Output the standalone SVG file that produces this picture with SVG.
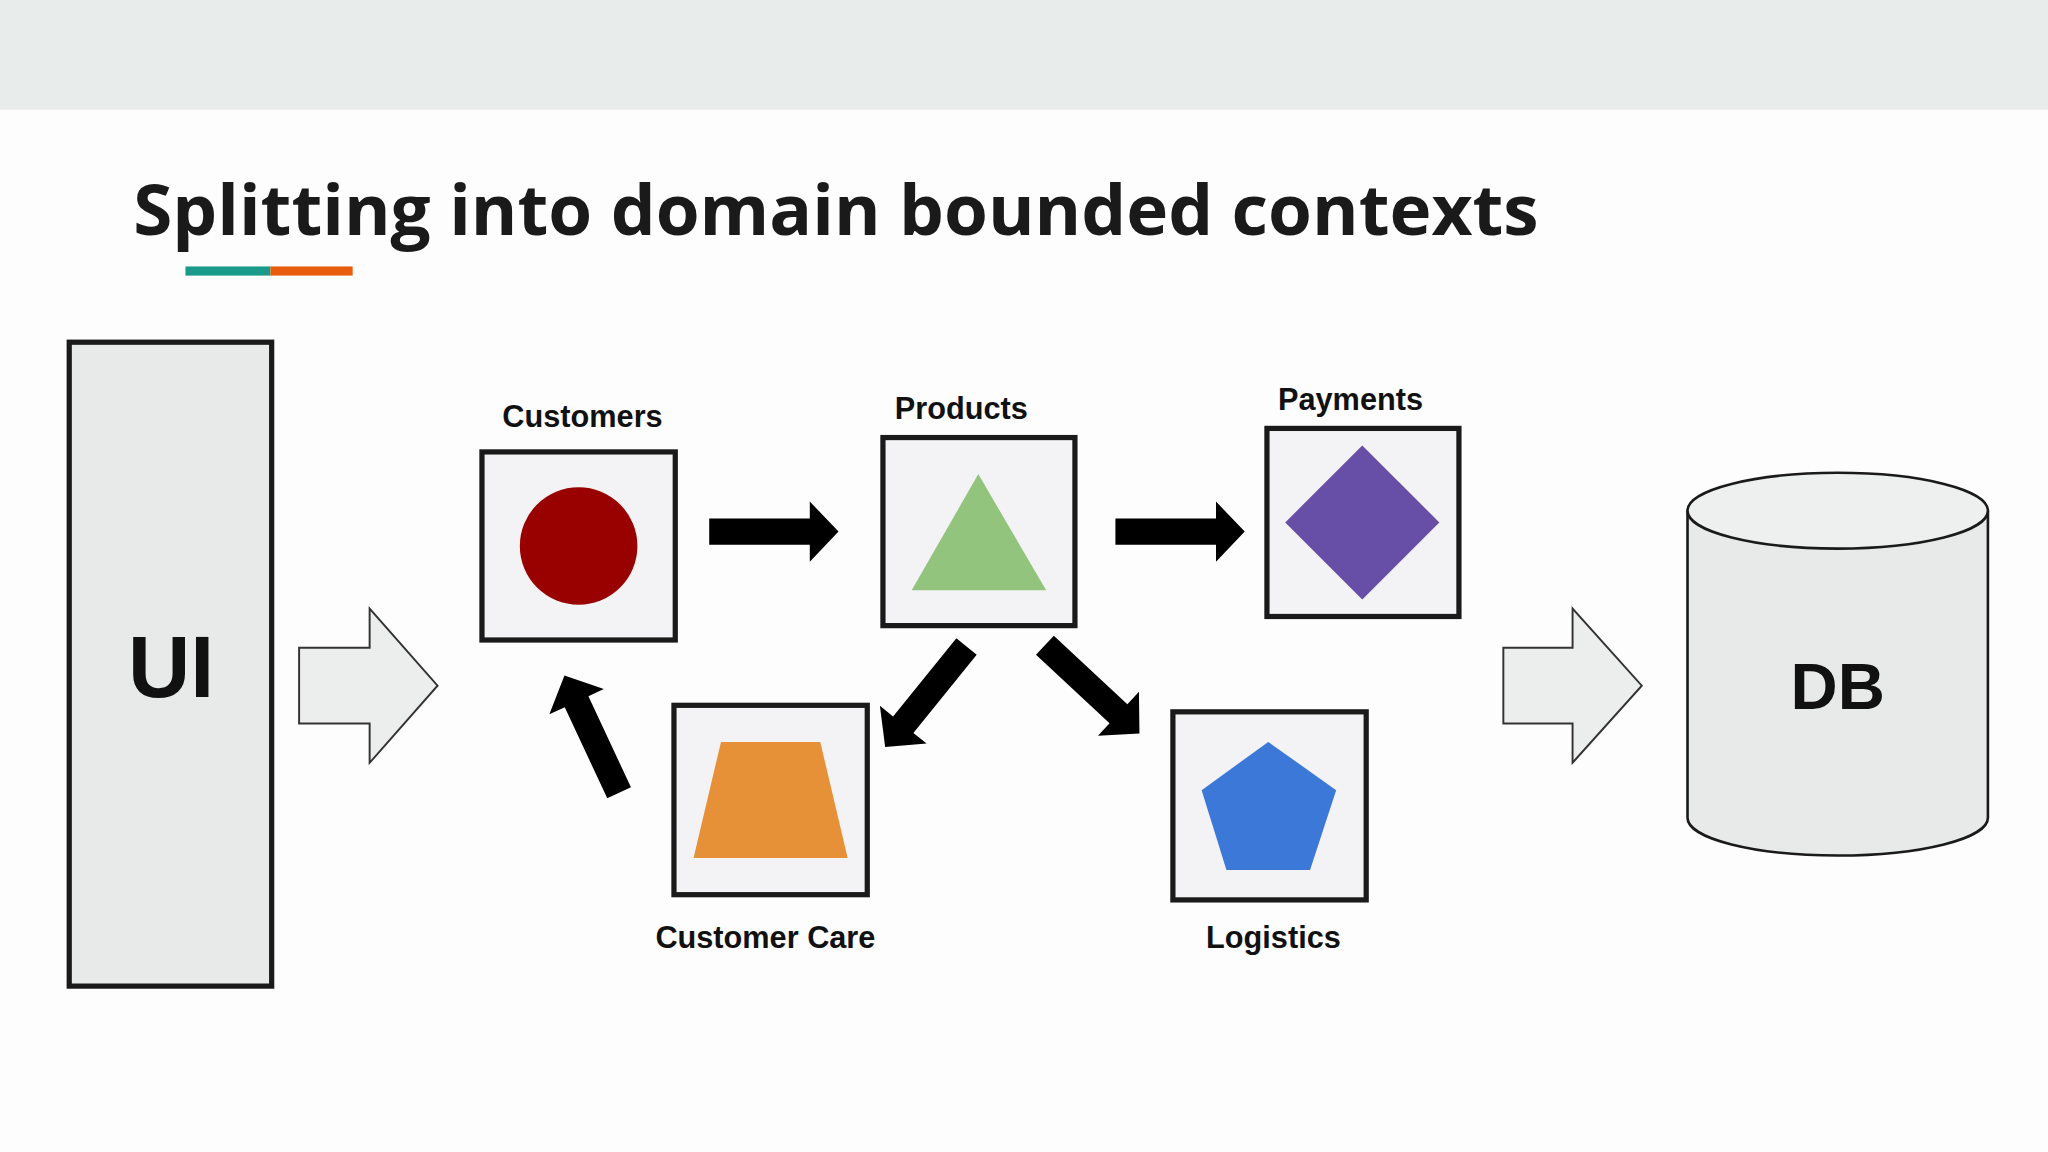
<svg xmlns="http://www.w3.org/2000/svg" xmlns:xlink="http://www.w3.org/1999/xlink" width="2048" height="1152" viewBox="0 0 2048 1152">
<style>
.box{fill:#f3f2f4;stroke:#1a1a1a;stroke-width:4}
.lbl{font-family:"Liberation Sans",Arial,sans-serif;font-weight:bold;font-size:23.5px;fill:#111;text-anchor:middle}
.big{font-family:"Liberation Sans",Arial,sans-serif;font-weight:bold;fill:#111;text-anchor:middle}
.hollow{fill:#eceeed;stroke:#333;stroke-width:1.5}
.blk{fill:#000}
</style>
<defs>
<path id="arr" d="M0,-10 L77,-10 L77,-23 L99,0 L77,23 L77,10 L0,10Z"/>
</defs>
<rect width="2048" height="1152" fill="#fdfdfd"/>
<g transform="scale(1.30612)">
<rect x="0" y="0" width="1568" height="84" fill="#e8ecea"/>
<text x="102" y="180" font-family="'Open Sans','Liberation Sans',sans-serif" font-weight="bold" font-size="54" fill="#1a1a1a" textLength="1076" lengthAdjust="spacingAndGlyphs">Splitting into domain bounded contexts</text>
<rect x="142" y="204" width="65" height="7" fill="#1a9a8a"/>
<rect x="207" y="204" width="63" height="7" fill="#e85d0c"/>
<g id="ui"><rect x="53" y="262" width="155" height="493" fill="#e8eae9" stroke="#1a1a1a" stroke-width="4"/><text class="big" x="131" y="534" font-size="66">UI</text></g>
<g id="customers"><rect class="box" x="369" y="346" width="148" height="144"/><circle cx="443" cy="418" r="45" fill="#990000"/><text class="lbl" x="446" y="327">Customers</text></g>
<g id="products"><rect class="box" x="676" y="335" width="147" height="144"/><polygon points="749,363 698,452 801,452" fill="#93c47d"/><text class="lbl" x="736" y="321">Products</text></g>
<g id="payments"><rect class="box" x="970" y="328" width="147" height="144"/><polygon points="1043,341 1102,400 1043,459 984,400" fill="#674ea7"/><text class="lbl" x="1034" y="314">Payments</text></g>
<g id="customercare"><rect class="box" x="516" y="540" width="148" height="145"/><polygon points="552,568 628,568 649,657 531,657" fill="#e69138"/><text class="lbl" x="586" y="726">Customer Care</text></g>
<g id="logistics"><rect class="box" x="898" y="545" width="148" height="144"/><polygon points="971,568 1023,605 1003,666 939,666 920,605" fill="#3c78d8"/><text class="lbl" x="975" y="726">Logistics</text></g>
<g id="db"><path d="M1292,391 L1292,626 A115,29 0 0 0 1522,626 L1522,391" fill="#e8eae9" stroke="#1a1a1a" stroke-width="2"/><ellipse cx="1407" cy="391" rx="115" ry="29" fill="#eef0ef" stroke="#1a1a1a" stroke-width="2"/><text class="big" x="1407" y="543" font-size="50">DB</text></g>
<g id="connectors">
<polygon class="hollow" points="229,496 283,496 283,466 335,525 283,584 283,554 229,554"/>
<polygon class="hollow" points="1151,496 1204,496 1204,466 1257,525 1204,584 1204,554 1151,554"/>
<use class="blk" xlink:href="#arr" transform="translate(543,407)"/>
<use class="blk" xlink:href="#arr" transform="translate(854,407)"/>
<use class="blk" xlink:href="#arr" transform="translate(740,495) rotate(129)"/>
<use class="blk" xlink:href="#arr" transform="translate(800,494) rotate(43)"/>
<use class="blk" xlink:href="#arr" transform="translate(474,607) rotate(-115)"/>
</g>
</g>
</svg>
